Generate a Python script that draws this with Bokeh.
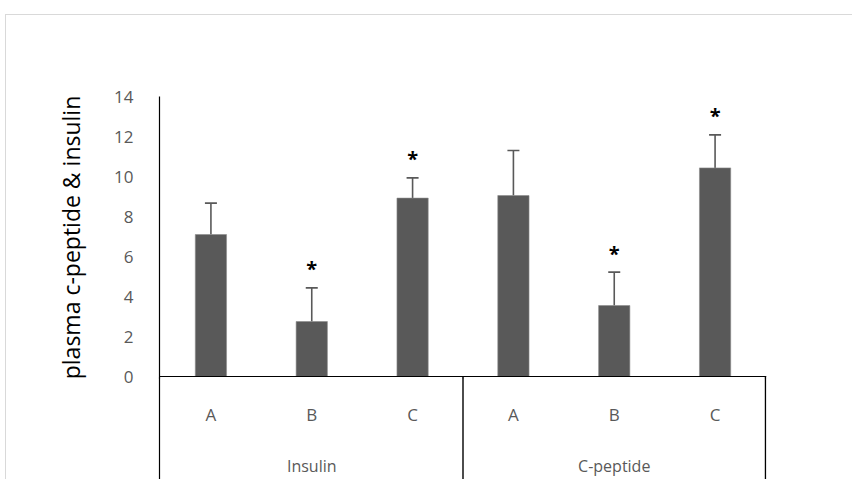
from bokeh.plotting import figure
from bokeh.layouts import column
from bokeh.models import FactorRange, FixedTicker, Whisker, TeeHead, ColumnDataSource, Span
from bokeh.core.properties import value
from bokeh.embed import file_html
from bokeh.resources import INLINE

# ---- data ----
groups = ["Insulin", "C-peptide"]
subgroups = ["A", "B", "C"]
means = [7.1, 2.75, 8.92, 9.05, 3.55, 10.43]
errors = [1.57, 1.68, 1.01, 2.25, 1.67, 1.65]
significance = ["", "*", "*", "", "*", "*"]
y_ticks = [0, 2, 4, 6, 8, 10, 12, 14]
y_label = "plasma c-peptide & insulin"

factors = [(g, s) for g in groups for s in subgroups]
upper = [m + e for m, e in zip(means, errors)]
src = ColumnDataSource(dict(x=factors, top=means, upper=upper, sig=significance,
                            star_y=[u + 0.95 for u in upper]))

FONT = "Open Sans"
GREY = "#595959"
BORDER = "1px solid #d9d9d9"
Y_TOP = -0.1      # small strip below 0 so the baseline is not clipped
Y_BOT = -5.2      # bottom of the category box (cut by the picture edge)
OVERLAP = 22      # px of the upper canvas lying under the lower one

x_range = FactorRange(factors=factors, factor_padding=0, group_padding=0,
                      range_padding=0.01, range_padding_units="absolute")
edges_x = [(g, subgroups[-1], 0.5) for g in groups]

# ---------------- upper figure: bars ----------------
p = figure(width=847, height=363 + OVERLAP, x_range=x_range, y_range=(Y_TOP, y_ticks[-1]),
           output_backend="svg", toolbar_location=None, x_axis_location=None,
           min_border_left=153, min_border_right=87, min_border_top=81,
           min_border_bottom=OVERLAP)
p.styles = {"border-top": BORDER, "border-left": BORDER,
            "margin-top": "14px", "margin-left": "5px"}
p.outline_line_color = None
p.grid.visible = False

yax = p.yaxis[0]
yax.ticker = FixedTicker(ticks=y_ticks)
yax.axis_line_color = "black"
yax.axis_line_width = 1.2
yax.major_tick_line_color = None
yax.minor_tick_line_color = None
yax.major_label_text_font = FONT
yax.major_label_text_font_size = "17px"
yax.major_label_text_color = GREY
yax.major_label_standoff = 20
yax.axis_label = y_label
yax.axis_label_text_font = FONT
yax.axis_label_text_font_size = "23px"
yax.axis_label_text_font_style = "normal"
yax.axis_label_text_color = "black"
yax.axis_label_standoff = 24

p.vbar(x="x", top="top", width=0.31, source=src, fill_color=GREY,
       line_color="#8c8c8c", line_width=0.6)

p.add_layout(Whisker(source=src, base="x", lower="top", upper="upper", dimension="height",
                     line_color=GREY, line_width=1.6,
                     upper_head=TeeHead(size=12, line_color=GREY, line_width=1.6),
                     lower_head=None))

p.text(x="x", y="star_y", text="sig", source=src, text_align="center",
       text_baseline="alphabetic", text_font=value(FONT), text_font_size="20px",
       text_font_style="bold", text_color="black")

p.add_layout(Span(location=0, dimension="width", line_color="black", line_width=1.2))
p.segment(x0=edges_x, y0=[0] * len(edges_x), x1=edges_x, y1=[Y_TOP] * len(edges_x),
          line_color="black", line_width=1.4)

# ---------------- lower figure: category box ----------------
q = figure(width=847, height=102, x_range=x_range, y_range=(Y_BOT, Y_TOP),
           output_backend="svg", toolbar_location=None, x_axis_location=None,
           min_border_left=153, min_border_right=87, min_border_top=0, min_border_bottom=0)
q.styles = {"border-left": BORDER, "margin-left": "5px", "margin-top": f"-{OVERLAP}px"}
q.outline_line_color = None
q.background_fill_color = None
q.border_fill_color = None
q.grid.visible = False
qax = q.yaxis[0]
qax.ticker = FixedTicker(ticks=[])
qax.axis_line_color = "black"
qax.axis_line_width = 1.2
qax.major_tick_line_color = None
qax.minor_tick_line_color = None
qax.major_label_text_color = None

q.segment(x0=edges_x, y0=[Y_TOP] * len(edges_x), x1=edges_x, y1=[Y_BOT] * len(edges_x),
          line_color="black", line_width=1.4)
q.text(x=factors, y=[-1.95] * len(factors), text=[f[1] for f in factors],
       text_align="center", text_baseline="middle", text_font=value(FONT),
       text_font_size="17px", text_color=GREY)
q.text(x=groups, y=[-4.5] * len(groups), text=groups,
       text_align="center", text_baseline="middle", text_font=value(FONT),
       text_font_size="16px", text_color=GREY)

layout = column(p, q, spacing=0)
open("out.html", "w").write(file_html(layout, INLINE))
